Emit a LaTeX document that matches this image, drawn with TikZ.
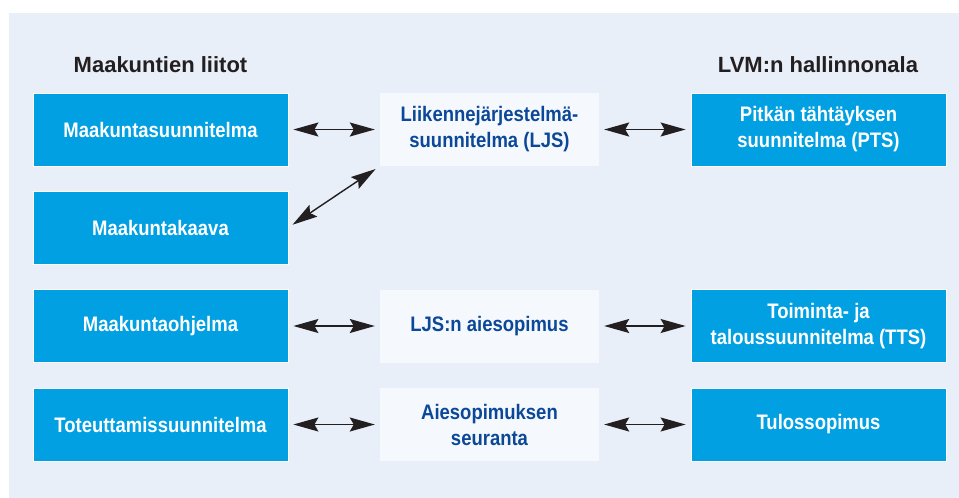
\documentclass[tikz,border=0pt]{standalone}
\usepackage{fontspec}
\setmainfont{Liberation Sans}
\newfontfamily\boxfont[FakeStretch=0.88]{Liberation Sans}
\usetikzlibrary{arrows.meta}
\definecolor{panelbg}{RGB}{232,239,248}
\definecolor{vmblue}{RGB}{0,160,227}
\definecolor{ljsfill}{RGB}{245,249,254}
\definecolor{ljstext}{RGB}{12,72,152}
\definecolor{headtext}{RGB}{35,31,32}
\begin{document}
\begin{tikzpicture}[x=1pt,y=-1pt,line join=round,
  >={Stealth[length=25pt,width=14pt,inset=4pt]}]
 \tikzset{bluebox/.style={draw=white,line width=0.8pt,fill=vmblue,text=white,
    minimum width=255pt,minimum height=73pt,inner sep=0pt,align=center,
    font=\boxfont\bfseries\fontsize{21}{26}\selectfont},
  ljsbox/.style={fill=ljsfill,text=ljstext,
    minimum width=219pt,minimum height=73pt,inner sep=0pt,align=center,
    font=\boxfont\bfseries\fontsize{21}{26}\selectfont},
  header/.style={text=headtext,anchor=base,font=\bfseries\fontsize{22}{26}\selectfont},
  link/.style={<->,draw=headtext,line width=1.4pt,shorten <=5pt,shorten >=5pt}}
 \useasboundingbox (0,0) rectangle (959,498);
 \fill[panelbg] (9,13) rectangle (959,498);
 % otsikot
 \node[header] (hmaak) at (160.5,72) {Maakuntien liitot};
 \node[header] (hlvm) at (818,72) {LVM:n hallinnonala};
 % maakuntien liitot
 \node[bluebox] (msuun) at (160.5,129.5) {Maakuntasuunnitelma};
 \node[bluebox] (mkaava) at (160.5,227.5) {Maakuntakaava};
 \node[bluebox] (mohj) at (160.5,326) {Maakuntaohjelma};
 \node[bluebox] (toteut) at (160.5,424.5) {Toteuttamissuunnitelma};
 % keskisarake
 \node[ljsbox] (ljs) at (489.5,129.5) {Liikennejärjestelmä-\\suunnitelma (LJS)};
 \node[ljsbox] (aies) at (489.5,326) {LJS:n aiesopimus};
 \node[ljsbox] (seur) at (489.5,424.5) {Aiesopimuksen\\seuranta};
 % LVM
 \node[bluebox] (pts) at (818.5,129.5) {Pitkän tähtäyksen\\suunnitelma (PTS)};
 \node[bluebox] (tts) at (818.5,326) {Toiminta- ja\\taloussuunnitelma (TTS)};
 \node[bluebox] (tulos) at (818.5,424.5) {Tulossopimus};
 % nuolet
 \draw[link] (msuun.east) -- (ljs.west);
 \draw[link] (mkaava.east) -- (ljs.south west);
 \draw[link] (mohj.east) -- (aies.west);
 \draw[link] (toteut.east) -- (seur.west);
 \draw[link] (ljs.east) -- (pts.west);
 \draw[link] (aies.east) -- (tts.west);
 \draw[link] (seur.east) -- (tulos.west);
\end{tikzpicture}
\end{document}
